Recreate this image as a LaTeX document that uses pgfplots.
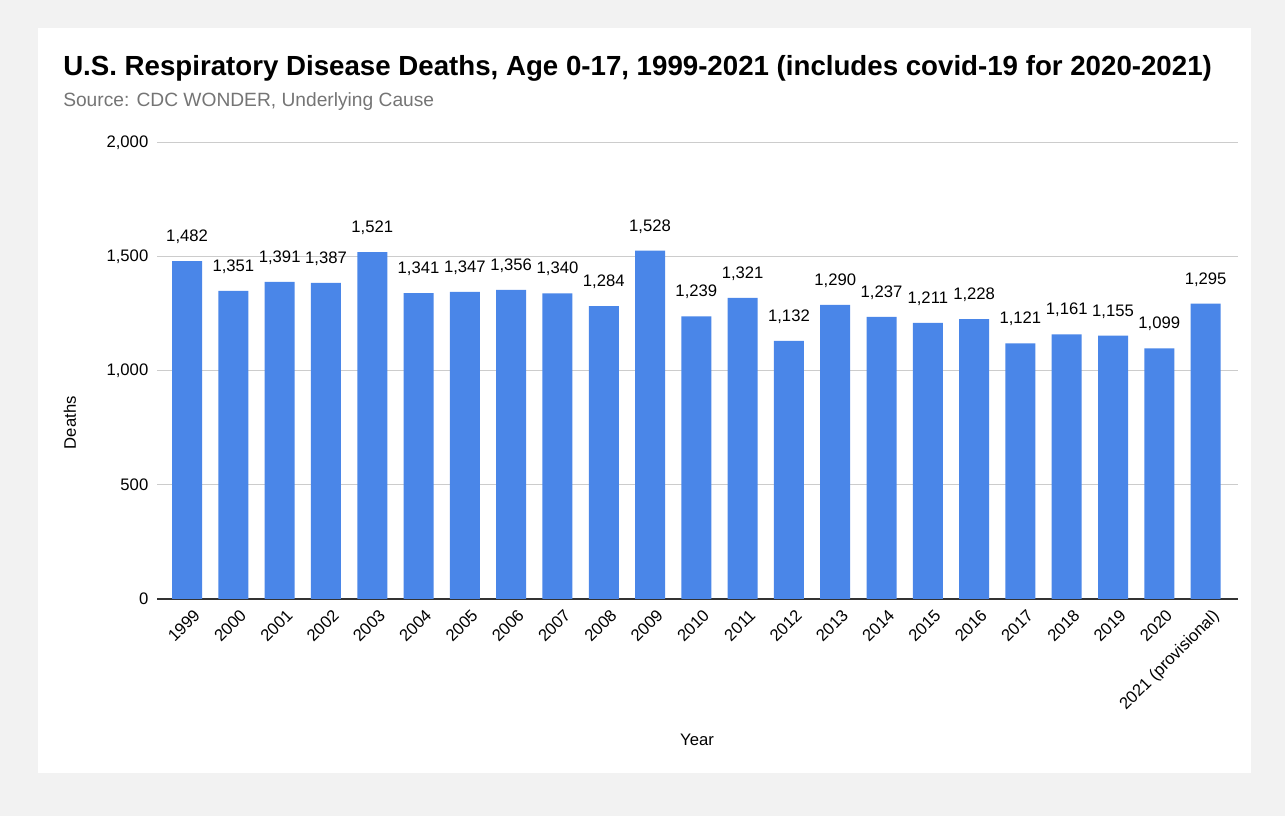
\documentclass[border=0pt]{standalone}
\usepackage{pgfplots}
\pgfplotsset{compat=1.18}
\usepackage{fontspec}
\setmainfont{Liberation Sans}

\definecolor{barblue}{HTML}{4A86E8}
\definecolor{pagegray}{HTML}{F2F2F2}
\definecolor{subgray}{HTML}{757575}
\definecolor{gridgray}{HTML}{CCCCCC}
\definecolor{axisdark}{HTML}{333333}

\begin{document}
\begin{tikzpicture}
	% page and card (1px = 0.75pt)
	\fill[pagegray] (0pt,0pt) rectangle (963.75pt,612pt);
	\fill[white] (28.5pt,32.25pt) rectangle (938.25pt,591pt);
	\node[anchor=base west,font=\fontsize{20.75}{25}\selectfont\bfseries,inner sep=0pt] at (47.25pt,555pt)
		{U.S. Respiratory Disease Deaths, Age 0-17, 1999-2021 (includes covid-19 for 2020-2021)};
	\node[anchor=base west,font=\fontsize{14.4}{17}\selectfont,text=subgray,inner sep=0pt] at (47.25pt,532pt)
		{Source: CDC WONDER, Underlying Cause};
	\node[rotate=90,font=\fontsize{12.5}{15}\selectfont] at (52.5pt,295pt) {Deaths};
	\node[font=\fontsize{12.5}{15}\selectfont] at (522.75pt,57pt) {Year};

	\begin{axis}[
	at={(117.75pt,162.75pt)}, anchor=south west,
	scale only axis,
	width=810.75pt, height=342pt,
	ymin=0, ymax=2000,
	xmin=-0.65, xmax=22.7,
	ytick={0,500,1000,1500,2000},
	xtick=data,
	xticklabels={1999,2000,2001,2002,2003,2004,2005,2006,2007,2008,2009,2010,2011,2012,2013,2014,2015,2016,2017,2018,2019,2020,2021 (provisional)},
	x tick label style={rotate=45,anchor=north east,font=\fontsize{12.5}{15}\selectfont,xshift=1.5pt,yshift=-4.5pt},
	y tick label style={font=\fontsize{12.5}{15}\selectfont,xshift=-3pt},
	/pgf/number format/assume math mode=true,
	/pgf/number format/1000 sep={,},
	scaled y ticks=false,
	major tick length=0pt,
	axis lines*=left,
	y axis line style={draw=none},
	x axis line style={draw=axisdark,line width=1.1pt},
	ymajorgrids=true,
	grid style={gridgray,line width=0.75pt},
	]
	\addplot[
	ybar, bar width=22.5pt, fill=barblue, draw=none,
	nodes near coords,
	every node near coord/.append style={font=\fontsize{12.5}{15}\selectfont,yshift=9.5pt,
		/pgf/number format/assume math mode=true,/pgf/number format/1000 sep={,}},
	]
	coordinates {
		(0,1482)(1,1351)(2,1391)(3,1387)(4,1521)(5,1341)(6,1347)(7,1356)
		(8,1340)(9,1284)(10,1528)(11,1239)(12,1321)(13,1132)(14,1290)(15,1237)
		(16,1211)(17,1228)(18,1121)(19,1161)(20,1155)(21,1099)(22,1295)
	};
	\end{axis}
\end{tikzpicture}
\end{document}
